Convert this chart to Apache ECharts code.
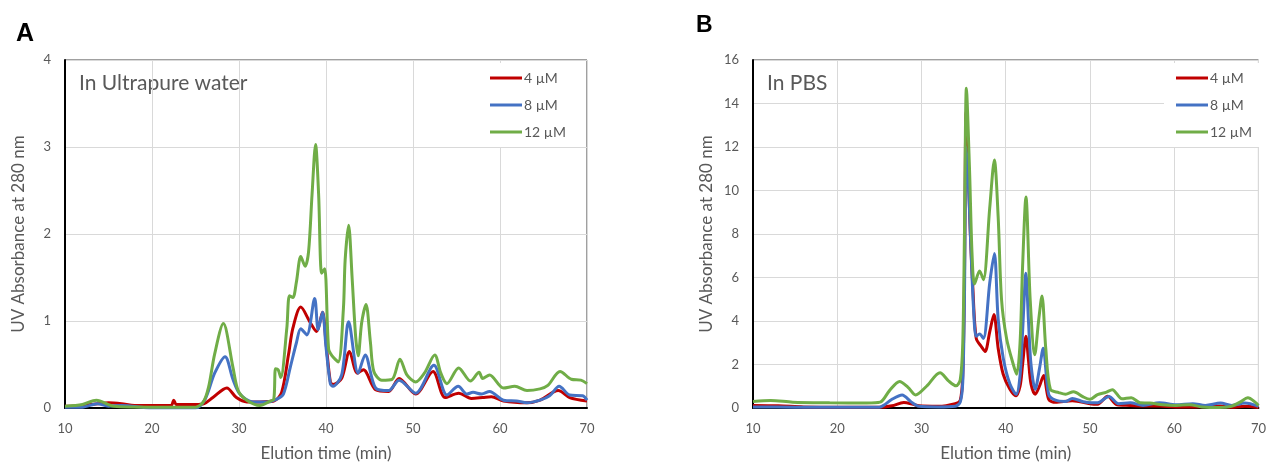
<!DOCTYPE html>
<html><head><meta charset="utf-8">
<script src="https://cdn.jsdelivr.net/npm/echarts@6/dist/echarts.min.js"></script>
<style>html,body{margin:0;padding:0;background:#fff}#c{width:1269px;height:467px}</style>
</head><body><div id="c"></div>
<script>
// ---- Data (elution time in min, UV absorbance at 280 nm) ----
const seriesNames = ['4 µM', '8 µM', '12 µM'];
const xTicks = [10, 20, 30, 40, 50, 60, 70];

const A_red = [[10,0.02],[12,0.03],[13.8,0.05],[15,0.06],[16.5,0.05],[18,0.03],[20,0.03],[22.2,0.03],[22.5,0.09],[22.8,0.04],[25,0.04],[26,0.05],[27,0.12],[28.6,0.23],[29.7,0.12],[30.9,0.07],[32.4,0.07],[34,0.08],[34.9,0.18],[35.7,0.62],[36.2,0.92],[37.1,1.16],[38.2,0.98],[38.9,0.88],[39.6,1.1],[40.0,0.75],[40.5,0.3],[40.8,0.27],[41.8,0.34],[42.7,0.65],[43.6,0.4],[44.3,0.44],[45.7,0.21],[47.2,0.19],[48.4,0.34],[50.3,0.16],[52.3,0.42],[53.7,0.12],[55.25,0.17],[56.7,0.11],[58.0,0.12],[59.0,0.13],[60.4,0.08],[63.1,0.06],[64.6,0.09],[66.7,0.2],[68,0.12],[70,0.08]];
const A_blue = [[10,0.01],[12,0.01],[13.7,0.05],[15,0.02],[16.5,0.03],[20,0.0],[25,0.0],[26.1,0.1],[27.2,0.4],[28.4,0.59],[29.3,0.33],[30.1,0.16],[31.6,0.07],[33.2,0.07],[34.3,0.1],[35.1,0.16],[35.9,0.47],[36.6,0.75],[37.1,0.91],[37.8,0.84],[38.7,1.26],[39.1,0.9],[39.6,1.1],[40.0,0.7],[40.5,0.28],[40.8,0.25],[41.8,0.38],[42.6,0.99],[43.7,0.4],[44.5,0.61],[45.7,0.23],[47.2,0.2],[48.4,0.32],[50.3,0.17],[52.4,0.49],[53.9,0.15],[55.2,0.25],[56.2,0.16],[56.9,0.18],[57.9,0.16],[58.8,0.19],[60.4,0.09],[61.9,0.08],[63.1,0.06],[64.6,0.09],[65.7,0.14],[66.8,0.25],[68.0,0.15],[69.5,0.14],[70,0.09]];
const A_green = [[10,0.02],[12,0.04],[13.6,0.09],[15.6,0.02],[20,0.01],[25,0.01],[25.9,0.07],[26.5,0.24],[27.2,0.62],[28.2,0.97],[29.3,0.47],[29.9,0.2],[30.9,0.09],[32.4,0.03],[33.6,0.08],[34.0,0.1],[34.2,0.45],[34.5,0.44],[34.8,0.35],[35.5,0.92],[35.8,1.29],[36.2,1.27],[36.6,1.45],[37.1,1.74],[37.6,1.63],[38.0,1.8],[38.4,2.46],[38.8,3.03],[39.15,2.46],[39.5,1.55],[39.85,1.6],[40.3,0.68],[40.7,0.6],[41.4,0.53],[42.0,1.14],[42.2,1.7],[42.6,2.1],[43.0,1.5],[43.4,0.83],[43.7,0.6],[44.1,0.98],[44.6,1.19],[45.1,0.76],[45.5,0.42],[46.4,0.32],[47.6,0.33],[48.5,0.56],[49.3,0.38],[50.3,0.3],[51.3,0.4],[52.5,0.61],[53.2,0.4],[53.9,0.28],[55.25,0.46],[56.6,0.31],[57.6,0.41],[58.0,0.34],[58.8,0.38],[60.4,0.23],[61.7,0.25],[63.1,0.2],[64.6,0.22],[65.5,0.26],[66.9,0.42],[68.2,0.33],[69.3,0.32],[70,0.28]];

const B_red = [[10,0.12],[13,0.1],[16,0.05],[20,0.03],[25,0.03],[26.5,0.1],[27.9,0.25],[29.0,0.17],[29.7,0.1],[32,0.08],[34,0.2],[34.6,0.35],[34.9,1.5],[35.1,6],[35.3,13.6],[35.55,11],[35.8,8],[36.1,5.5],[36.5,3.2],[37.15,2.8],[37.55,2.6],[38.1,3.5],[38.6,4.3],[39.1,2.75],[39.7,1.55],[40.5,0.86],[41.2,0.56],[41.7,1.0],[42.0,2.0],[42.4,3.3],[42.7,2.2],[43.0,1.1],[43.5,0.63],[44.0,1.0],[44.5,1.5],[45.1,0.4],[45.9,0.26],[47.9,0.33],[50.2,0.18],[50.9,0.17],[52.1,0.54],[53.2,0.15],[54.8,0.12],[56.3,0.09],[58.2,0.09],[60.2,0.05],[62.2,0.05],[65.5,0.09],[66.8,0.03],[68.4,0.08],[70,0.02]];
const B_blue = [[10,0.05],[15,0.04],[20,0.03],[25,0.04],[25.5,0.12],[26.5,0.4],[27.7,0.6],[28.8,0.27],[29.7,0.08],[32,0.05],[34,0.08],[34.6,0.27],[34.9,1.2],[35.1,5],[35.3,12.0],[35.55,10.5],[35.8,8.0],[36.2,4.4],[36.5,3.3],[36.9,3.4],[37.35,3.2],[38.1,5.75],[38.65,7.1],[39.1,4.1],[39.7,2.3],[40.5,1.1],[41.25,0.63],[41.7,1.5],[42.0,3.5],[42.4,6.2],[42.7,4.0],[43.0,2.0],[43.5,0.86],[44.0,1.8],[44.45,2.75],[45.1,0.63],[45.9,0.36],[47.1,0.3],[47.9,0.44],[49.2,0.29],[50.2,0.24],[50.9,0.24],[52.25,0.53],[53.4,0.2],[54.8,0.24],[56.3,0.12],[58.25,0.24],[60.2,0.15],[62.2,0.2],[63.7,0.12],[65.5,0.23],[66.8,0.12],[68.4,0.23],[70,0.08]];
const B_green = [[10,0.3],[12.1,0.35],[14.7,0.27],[19.1,0.24],[23.5,0.23],[25.1,0.27],[26.2,0.8],[27.4,1.22],[28.4,0.95],[29.3,0.6],[30.6,1.0],[32.2,1.62],[33.2,1.25],[34.1,1.02],[34.6,1.3],[34.9,3],[35.1,8],[35.33,14.7],[35.7,11.0],[36.0,7.1],[36.3,5.7],[36.9,6.3],[37.35,5.9],[38.1,9.2],[38.65,11.4],[39.1,8.8],[39.5,5.0],[40.1,3.2],[40.9,2.0],[41.3,1.55],[41.7,3.0],[42.0,6.5],[42.4,9.7],[42.9,5.0],[43.45,2.45],[43.9,4.0],[44.3,5.15],[44.75,2.75],[45.3,0.86],[46.3,0.71],[47.1,0.63],[48.05,0.75],[49.2,0.51],[50.0,0.4],[50.9,0.62],[51.9,0.72],[52.65,0.84],[53.8,0.42],[54.9,0.47],[55.95,0.24],[57.1,0.23],[58.6,0.15],[60.2,0.12],[61.8,0.15],[63.3,0.05],[65.3,0.02],[66.8,0.08],[67.8,0.27],[68.75,0.47],[69.6,0.27],[70,0.12]];

const colors = ['#C00000', '#4472C4', '#70AD47'];
const FONT = 'Lato, "Open Sans", sans-serif';
const GREY = '#595959';

function xAxis(gridIndex) {
  return {
    gridIndex, type: 'value', min: 10, max: 70, interval: 10,
    name: 'Elution time (min)', nameLocation: 'middle', nameGap: 37,
    nameTextStyle: { fontSize: 17, color: GREY, fontFamily: FONT },
    axisLine: { show: true, onZero: false, lineStyle: { color: '#000', width: 2 } },
    axisTick: { show: false },
    axisLabel: { fontSize: 13, color: GREY, fontFamily: FONT, margin: 14 },
    splitLine: { show: true, lineStyle: { color: '#d9d9d9', width: 1 } }
  };
}
function yAxis(gridIndex, max, interval) {
  return {
    gridIndex, type: 'value', min: 0, max, interval,
    name: 'UV Absorbance at 280 nm', nameLocation: 'middle', nameGap: 38,
    nameTextStyle: { fontSize: 17, color: GREY, fontFamily: FONT },
    axisLine: { show: true, lineStyle: { color: '#000', width: 2 } },
    axisTick: { show: false },
    axisLabel: { fontSize: 13, color: GREY, fontFamily: FONT, margin: 14 },
    splitLine: { show: true, lineStyle: { color: '#d9d9d9', width: 1 } }
  };
}
function lines(datasets, idx) {
  return datasets.map((d, i) => ({
    name: seriesNames[i], type: 'line', xAxisIndex: idx, yAxisIndex: idx,
    data: d, smooth: 0.3, showSymbol: false, symbol: 'none',
    lineStyle: { width: 3, color: colors[i] }, itemStyle: { color: colors[i] },
    animation: false, z: 3 + i
  }));
}
function legend(left) {
  return {
    orient: 'vertical', left, top: 63, padding: [8, 8, 8, 12],
    backgroundColor: '#fff', itemWidth: 32, itemHeight: 14, itemGap: 13,
    icon: 'path://M0,0 L32,0 L32,3 L0,3 Z',
    textStyle: { fontSize: 14, color: GREY, fontFamily: FONT, padding: [0, 0, 0, -3] },
    data: seriesNames
  };
}

const chart = echarts.init(document.getElementById('c'), null, { renderer: 'canvas' });
chart.setOption({
  animation: false,
  grid: [
    { left: 65, top: 60, width: 522, height: 351, show: true, borderColor: '#404040', borderWidth: 1 },
    { left: 753, top: 60, width: 513, height: 354, show: true, borderColor: '#404040', borderWidth: 1 }
  ],
  xAxis: [xAxis(0), xAxis(1)],
  yAxis: [yAxis(0, 4, 1), yAxis(1, 16, 2)],
  legend: [legend(478), legend(1164)],
  series: [...lines([A_red, A_blue, A_green], 0), ...lines([B_red, B_blue, B_green], 1)],
  graphic: [
    { type: 'text', left: 16, top: 22, style: { text: 'A', font: 'bold 25px "Liberation Sans", Arial, sans-serif', fill: '#000' } },
    { type: 'text', left: 696, top: 14, style: { text: 'B', font: 'bold 23px "Liberation Sans", Arial, sans-serif', fill: '#000' } },
    { type: 'text', left: 79, top: 73, style: { text: 'In Ultrapure water', font: '21px ' + FONT, fill: GREY } },
    { type: 'text', left: 767, top: 73, style: { text: 'In PBS', font: '21px ' + FONT, fill: GREY } }
  ]
});
</script></body></html>
